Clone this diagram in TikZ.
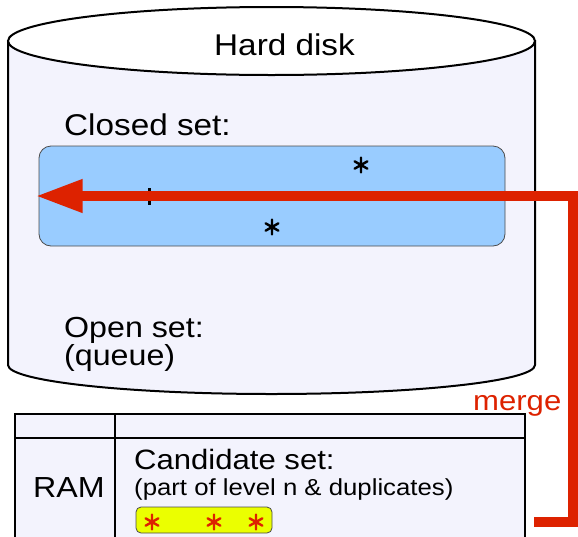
\documentclass[tikz,border=0pt]{standalone}
\usepackage{fontspec}
\setmainfont[FakeStretch=1.11]{Liberation Sans}
\usetikzlibrary{arrows.meta}
\definecolor{lav}{HTML}{F3F3FD}
\definecolor{skyb}{HTML}{99CCFF}
\definecolor{yel}{HTML}{EBFF00}
\definecolor{mred}{HTML}{DD2200}
\newcommand{\astmark}[3]{%
  \coordinate (#1) at #2;
  \draw[#3,line width=2.4pt,line cap=round]
    (#1) ++(90:7.4) -- ++(270:14.8)
    (#1) ++(30:7.4) -- ++(210:14.8)
    (#1) ++(150:7.4) -- ++(330:14.8);}
\tikzset{
  outline/.style={draw=black,line width=2pt},
  lbl/.style={anchor=base west,inner sep=0pt},
  mergearrow/.style={draw=mred,line width=10pt,miter limit=10,-{Triangle[length=47pt 0 0,width=31pt 0 0]}}
}
\begin{document}
\begin{tikzpicture}[x=1pt,y=-1pt]
\useasboundingbox (0,0) rectangle (578,536);
% cylinder body
\path[outline,fill=lav] (8,41) -- (8,365) arc[start angle=180,end angle=360,x radius=263.5pt,y radius=29pt] -- (535,41) -- cycle;
\path[outline,fill=white] (271.5,41) ellipse[x radius=263.5pt,y radius=34pt];
\node[lbl,font=\fontsize{30}{36}\selectfont] (hd) at (214,55) {Hard disk};
\node[lbl,font=\fontsize{30}{36}\selectfont] (cs) at (64,135) {Closed set:};
\node[draw=black!70,line width=0.8pt,fill=skyb,rounded corners=12pt,minimum width=466pt,minimum height=100pt,inner sep=0pt] (closed) at (272,196) {};
\astmark{s1}{(361,165)}{black}
\astmark{s2}{(272,227)}{black}
\coordinate (tk1) at (149,188);
\coordinate (tk2) at (149,205);
\draw[line width=3pt] (tk1) -- (tk2);
\node[lbl,font=\fontsize{29}{34}\selectfont] (os) at (64,337) {Open set:};
\node[lbl,font=\fontsize{29}{34}\selectfont] (qu) at (64,365) {(queue)};
% RAM table
\path[outline,fill=lav] (15,414) rectangle (525,560);
\draw[line width=2pt] (15,438) -- (525,438);
\draw[line width=2pt] (115,414) -- (115,560);
\node[lbl,font=\fontsize{29}{34}\selectfont] (ram) at (33,497) {RAM};
\node[lbl,font=\fontsize{28}{34}\selectfont] (cand) at (134,469) {Candidate set:};
\node[lbl,font=\fontsize{23.2}{28}\selectfont] (part) at (134,495) {(part of level n \& duplicates)};
\node[draw=black!70,line width=0.8pt,fill=yel,rounded corners=5pt,minimum width=136pt,minimum height=26pt,inner sep=0pt] (cbox) at (204,520) {};
\astmark{r1}{(152,522)}{mred}
\astmark{r2}{(214,522)}{mred}
\astmark{r3}{(256,522)}{mred}
% merge arrow
\node[lbl,text=mred,font=\fontsize{28}{32}\selectfont] (mg) at (473,410) {merge};
\coordinate (mstart) at (534,522);
\coordinate (mc1) at (573,522);
\coordinate (mc2) at (573,196);
\draw[mergearrow] (mstart) -- (mc1) -- (mc2) -- ([xshift=-3pt]closed.west);
\end{tikzpicture}
\end{document}
